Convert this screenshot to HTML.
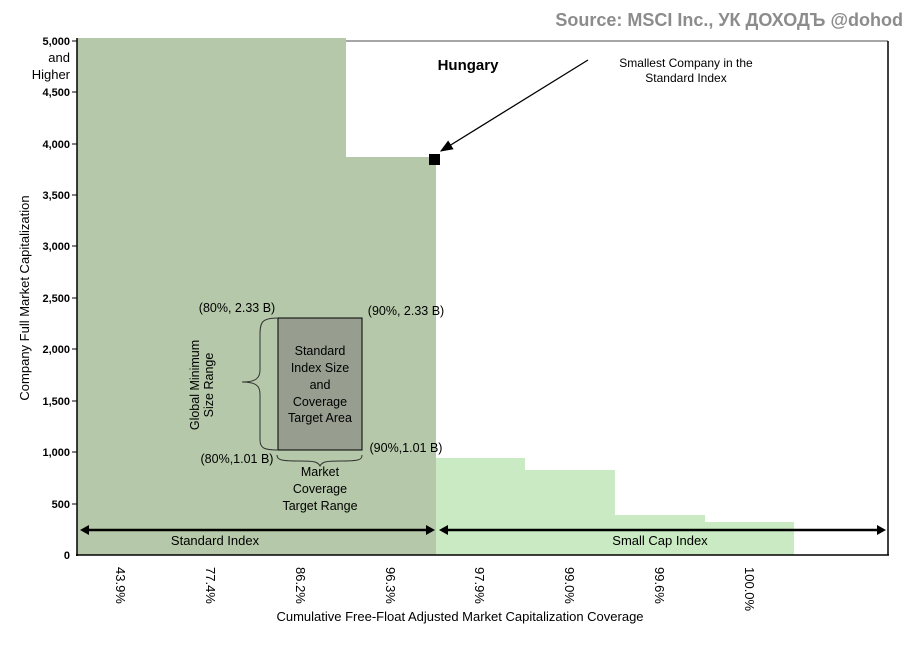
<!DOCTYPE html>
<html><head><meta charset="utf-8"><style>
body{margin:0;background:#fff;}
svg text{font-family:"Liberation Sans",Arial,sans-serif;}
</style></head><body>
<svg width="913" height="641" viewBox="0 0 913 641" xmlns="http://www.w3.org/2000/svg">
<defs><marker id="ah" markerWidth="10" markerHeight="8" refX="9" refY="4" orient="auto"><path d="M0,0 L10,4 L0,8 z" fill="#000"/></marker></defs>
<text x="903" y="26" text-anchor="end" font-size="18" font-weight="bold" fill="#8c8c8c">Source: MSCI Inc., УК ДОХОДЪ @dohod</text>
<line x1="346" y1="41" x2="888" y2="41" stroke="#888" stroke-width="1.5"/>
<line x1="888" y1="41" x2="888" y2="555" stroke="#000" stroke-width="1.5"/>
<rect x="77" y="38" width="269" height="517" fill="#b5c8a9"/>
<rect x="346" y="157" width="90" height="398" fill="#b5c8a9"/>
<rect x="436" y="458" width="89" height="97" fill="#c9eac2"/>
<rect x="525" y="470" width="90" height="85" fill="#c9eac2"/>
<rect x="615" y="515" width="90" height="40" fill="#c9eac2"/>
<rect x="705" y="522" width="89" height="33" fill="#c9eac2"/>
<rect x="278" y="318" width="84" height="132" fill="#979e90" stroke="#000" stroke-width="1"/>
<line x1="77" y1="38" x2="77" y2="556" stroke="#000" stroke-width="1.5"/>
<line x1="76" y1="555" x2="889" y2="555" stroke="#000" stroke-width="1.5"/>
<g font-size="11" font-weight="bold" text-anchor="end">
<text x="70" y="45">5,000</text><text x="70" y="96">4,500</text><text x="70" y="148">4,000</text>
<text x="70" y="199">3,500</text><text x="70" y="250">3,000</text><text x="70" y="302">2,500</text>
<text x="70" y="353">2,000</text><text x="70" y="405">1,500</text><text x="70" y="456">1,000</text>
<text x="70" y="508">500</text><text x="70" y="559">0</text>
</g>
<g stroke="#000"><line x1="72" y1="41" x2="77" y2="41"/><line x1="72" y1="92" x2="77" y2="92"/><line x1="72" y1="144" x2="77" y2="144"/><line x1="72" y1="195" x2="77" y2="195"/><line x1="72" y1="246" x2="77" y2="246"/><line x1="72" y1="298" x2="77" y2="298"/><line x1="72" y1="349" x2="77" y2="349"/><line x1="72" y1="401" x2="77" y2="401"/><line x1="72" y1="452" x2="77" y2="452"/><line x1="72" y1="504" x2="77" y2="504"/></g>
<text x="70" y="62" text-anchor="end" font-size="13">and</text>
<text x="70" y="79" text-anchor="end" font-size="13">Higher</text>
<text transform="translate(29,298) rotate(-90)" text-anchor="middle" font-size="13">Company Full Market Capitalization</text>
<text x="468" y="70" text-anchor="middle" font-size="15" font-weight="bold">Hungary</text>
<text x="686" y="67" text-anchor="middle" font-size="12">Smallest Company in the</text>
<text x="686" y="82" text-anchor="middle" font-size="12">Standard Index</text>
<line x1="588" y1="60" x2="441" y2="151" stroke="#000" stroke-width="1.3" marker-end="url(#ah)"/>
<rect x="429" y="154" width="11" height="11" fill="#000"/>
<g font-size="12.5" text-anchor="middle">
<text x="320" y="355">Standard</text><text x="320" y="372">Index Size</text><text x="320" y="389">and</text><text x="320" y="406">Coverage</text><text x="320" y="422">Target Area</text>
<text x="320" y="476">Market</text><text x="320" y="493">Coverage</text><text x="320" y="510">Target Range</text>
<text x="237" y="312">(80%, 2.33 B)</text><text x="406" y="315">(90%, 2.33 B)</text>
<text x="237" y="463">(80%,1.01 B)</text><text x="406" y="452">(90%,1.01 B)</text>
<text transform="translate(199,385) rotate(-90)">Global Minimum</text>
<text transform="translate(213,385) rotate(-90)">Size Range</text>
</g>
<path d="M278,318 C262,318 260,322 260,335 L260,370 C260,378 256,382 242,382 C256,382 260,386 260,394 L260,440 C260,448 264,450 278,450" fill="none" stroke="#333" stroke-width="1"/>
<path d="M277,455 C277,460 281,461 300,461 C315,461 318,462 320,466 C322,462 325,461 340,461 C359,461 362,460 362,455" fill="none" stroke="#333" stroke-width="1"/>
<g stroke="#000" stroke-width="2.5" fill="#000">
<line x1="84" y1="530" x2="430" y2="530"/><path d="M80,530 l9,-5 v10z" stroke="none"/><path d="M435,530 l-9,-5 v10z" stroke="none"/>
<line x1="443" y1="530" x2="881" y2="530"/><path d="M439,530 l9,-5 v10z" stroke="none"/><path d="M886,530 l-9,-5 v10z" stroke="none"/>
</g>
<text x="215" y="545" text-anchor="middle" font-size="13">Standard Index</text>
<text x="660" y="545" text-anchor="middle" font-size="13">Small Cap Index</text>
<g font-size="13">
<text transform="translate(116,567) rotate(90)">43.9%</text>
<text transform="translate(206,567) rotate(90)">77.4%</text>
<text transform="translate(296,567) rotate(90)">86.2%</text>
<text transform="translate(386,567) rotate(90)">96.3%</text>
<text transform="translate(475,567) rotate(90)">97.9%</text>
<text transform="translate(565,567) rotate(90)">99.0%</text>
<text transform="translate(655,567) rotate(90)">99.6%</text>
<text transform="translate(745,567) rotate(90)">100.0%</text>
</g>
<text x="460" y="621" text-anchor="middle" font-size="13">Cumulative Free-Float Adjusted Market Capitalization Coverage</text>
</svg>
</body></html>
